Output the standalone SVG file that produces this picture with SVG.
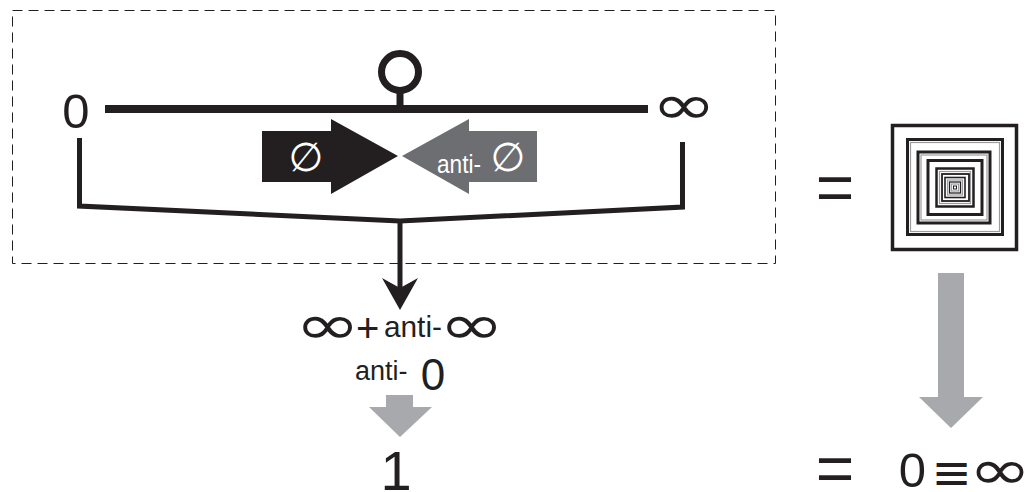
<svg xmlns="http://www.w3.org/2000/svg" width="1029" height="492" viewBox="0 0 1029 492">
<style>
.ln{fill:none;stroke:#231f20;stroke-linejoin:miter}
.t{font-family:"Liberation Sans",Arial,sans-serif;fill:#231f20}
.s{font-family:"DejaVu Sans","Noto Sans",sans-serif;fill:#231f20}
.w{fill:#ffffff}
.sq{fill:none;stroke:#231f20}
.sg{fill:none;stroke:#9a9c9f}
</style>
<rect width="1029" height="492" fill="#ffffff"/>
<g id="frame">
<rect x="12.5" y="10.5" width="763" height="253" fill="none" stroke="#231f20" stroke-width="1" stroke-dasharray="10 6"/>
</g>
<g id="node-zero">
<text class="t" x="76" y="128" font-size="49" text-anchor="middle">0</text>
</g>
<g id="node-infinity">
<text class="s" transform="translate(684,124) scale(1.4,1)" x="0" y="0" font-size="56" text-anchor="middle">∞</text>
</g>
<g id="node-axis">
<rect x="105" y="105" width="543" height="8" fill="#231f20"/>
<circle cx="400" cy="72" r="18.5" class="ln" stroke-width="7"/>
<line x1="400" y1="90" x2="400" y2="106" class="ln" stroke-width="7"/>
</g>
<g id="node-empty">
<polygon points="262,131 331,131 331,119 398,156 331,194 331,182 262,182" fill="#231f20"/>
<text class="s w" x="306" y="171" font-size="40" text-anchor="middle">∅</text>
</g>
<g id="node-anti-empty">
<polygon points="537,131 469,131 469,119 402,156 469,194 469,182 537,182" fill="#6d6e71"/>
<text class="t w" x="437" y="173" font-size="25" textLength="44" lengthAdjust="spacingAndGlyphs">anti-</text>
<text class="s w" x="508" y="171" font-size="40" text-anchor="middle">∅</text>
</g>
<g id="connectors">
<polyline points="79.5,138 79.5,206 400,221 682.5,207 682.5,142" class="ln" stroke-width="5"/>
<line x1="400" y1="221" x2="400" y2="290" class="ln" stroke-width="5"/>
<polygon points="382,278 400,288 418,278 400,310" fill="#231f20"/>
<polygon points="386,395 413,395 413,407 432,407 400,437 369,407 386,407" fill="#a7a9ac"/>
<polygon points="938,273 964,273 964,397 983,397 951,428 919,397 938,397" fill="#a7a9ac"/>
</g>
<g id="node-sum">
<text class="s" x="294.7" y="344" font-size="56"><tspan textLength="65.7" lengthAdjust="spacingAndGlyphs">∞</tspan><tspan class="t" dx="-4.4" dy="-2" font-size="40">+</tspan><tspan class="t" dx="4.6" dy="-5" font-size="29" textLength="58" lengthAdjust="spacingAndGlyphs">anti-</tspan><tspan dx="-3.3" dy="7" textLength="65.7" lengthAdjust="spacingAndGlyphs">∞</tspan></text>
</g>
<g id="node-anti-zero">
<text class="t" x="355" y="380" font-size="27">anti-</text>
<text class="t" x="433" y="390" font-size="44" text-anchor="middle">0</text>
</g>
<g id="node-one">
<text class="t" x="396" y="490" font-size="56" text-anchor="middle">1</text>
</g>
<g id="node-eq-top">
<text class="t" x="835" y="210" font-size="66" text-anchor="middle">=</text>
</g>
<g id="node-squares">
<rect x="892.5" y="125.5" width="124" height="124" class="sq" stroke-width="3.5"/>
<rect x="907.5" y="139.5" width="95" height="95" class="sq" stroke-width="3"/>
<rect x="910.5" y="142.5" width="89" height="89" class="sg" stroke-width="1.2"/>
<rect x="918" y="152" width="72" height="71" class="sq" stroke-width="3"/>
<rect x="921" y="155" width="66" height="65" class="sg" stroke-width="1.2"/>
<rect x="928" y="160.5" width="54" height="54" class="sq" stroke-width="3"/>
<rect x="936.5" y="168.5" width="37" height="38" class="sq" stroke-width="2.5"/>
<rect x="939.5" y="171.5" width="31" height="32" class="sg" stroke-width="1.2"/>
<rect x="942" y="174" width="27" height="27" class="sq" stroke-width="1.8"/>
<rect x="945" y="177.5" width="20" height="20" class="sq" stroke-width="1.6"/>
<rect x="947.5" y="180" width="15" height="15" class="sg" stroke-width="1.2"/>
<rect x="949.5" y="182" width="11" height="11" class="sq" stroke-width="1.3"/>
<rect x="951.5" y="184" width="7" height="7" class="sg" stroke-width="1.2"/>
<rect x="953.5" y="186" width="3" height="3" class="sq" stroke-width="1"/>
</g>
<g id="node-eq-bottom">
<text class="t" x="835" y="491" font-size="66" text-anchor="middle">=</text>
<text class="t" x="912.5" y="487" font-size="49" text-anchor="middle">0</text>
<text class="s" x="951.5" y="489" font-size="48" text-anchor="middle">≡</text>
<text class="s" transform="translate(1000,489) scale(1.35,1)" x="0" y="0" font-size="56" text-anchor="middle">∞</text>
</g>
</svg>
